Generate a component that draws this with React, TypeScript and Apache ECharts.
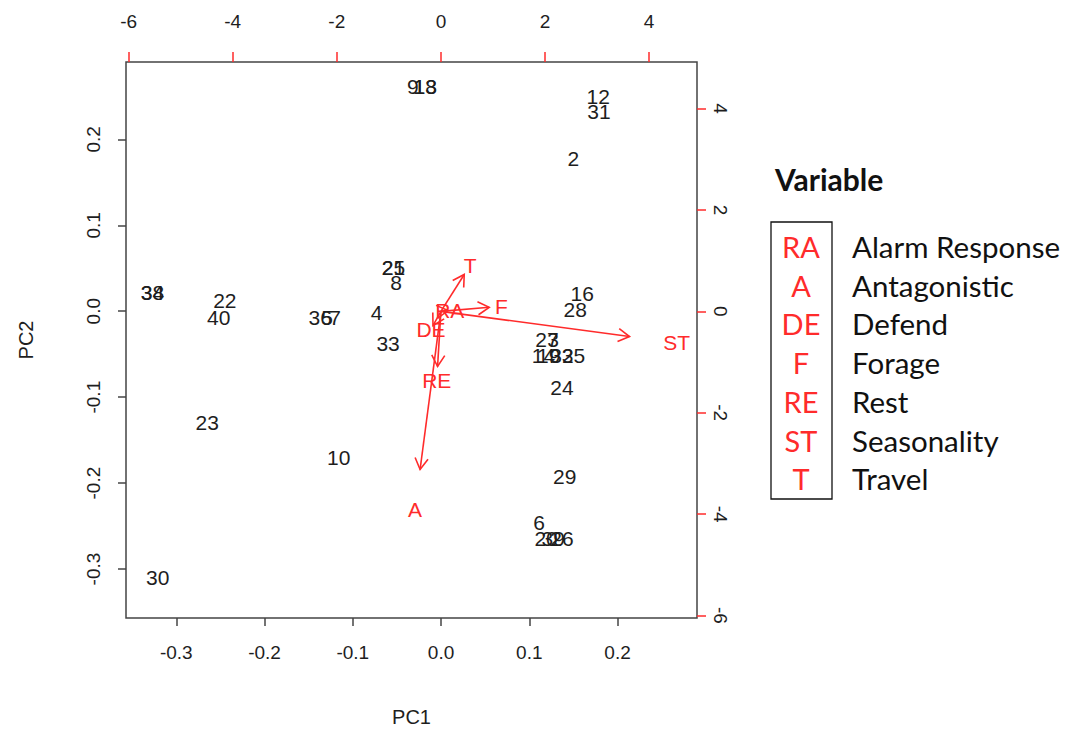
import React, { useEffect, useRef } from "react";
import * as echarts from "echarts";

// individual scores (PC1, PC2)
const obsLabels = ["9","18","13","34","38","22","40","23","30","10","36","5","7","4","33","21","25","8","2","12","31","16","28","24","29","6","20","39","26","27","3","14","19","32","35"];
const obsPC1 = [-0.032,-0.018,-0.018,-0.327,-0.327,-0.245,-0.252,-0.265,-0.321,-0.116,-0.137,-0.129,-0.120,-0.073,-0.060,-0.054,-0.054,-0.051,0.150,0.178,0.179,0.160,0.152,0.137,0.140,0.111,0.119,0.127,0.137,0.120,0.127,0.116,0.122,0.137,0.150];
const obsPC2 = [0.262,0.262,0.262,0.022,0.022,0.012,-0.007,-0.129,-0.310,-0.170,-0.007,-0.007,-0.007,-0.002,-0.037,0.051,0.051,0.033,0.178,0.250,0.232,0.021,0.002,-0.089,-0.192,-0.246,-0.265,-0.265,-0.265,-0.033,-0.033,-0.052,-0.052,-0.052,-0.052];

// variable loadings (secondary axes)
const varCodes = ["T","F","RA","DE","RE","A","ST"];
const varLoad1 = [0.56,1.16,0.17,-0.19,-0.08,-0.50,4.53];
const varLoad2 = [0.91,0.10,0.02,-0.35,-1.36,-3.90,-0.62];

// legend
const legendCodes = ["RA","A","DE","F","RE","ST","T"];
const legendNames = ["Alarm Response","Antagonistic","Defend","Forage","Rest","Seasonality","Travel"];

// ticks
const pcTicks = [-0.3,-0.2,-0.1,0,0.1,0.2];
const loadTicks = [-6,-4,-2,0,2,4];

const RED = "#ff2b2b";
const INK = "#1e1e1e";
const FONT = "'Liberation Sans', Arial, sans-serif";
const LFONT = "Lato, 'Open Sans', sans-serif";

export default function App() {
  const ref = useRef<HTMLDivElement>(null);
  useEffect(() => {
    if (!ref.current) return;
    const chart = echarts.init(ref.current, null, { renderer: "svg" });
    const primaryLim = [-0.357, 0.29];
    const secLim = [-6.05, 4.92];

    const legendGraphics: any[] = [
      { type: "text", left: 775, top: 164, style: { text: "Variable", font: `bold 30px ${LFONT}`, fill: "#111" } },
      { type: "rect", shape: { x: 771, y: 222, width: 61, height: 277 }, style: { fill: "none", stroke: "#111", lineWidth: 1.3 } },
    ];
    legendCodes.forEach((c, i) => {
      const y = 246.5 + i * 38.7;
      legendGraphics.push({ type: "text", x: 801, y, style: { text: c, font: `29px ${LFONT}`, fill: RED, align: "center", verticalAlign: "middle" } });
      legendGraphics.push({ type: "text", x: 852, y, style: { text: legendNames[i], font: `29.5px ${LFONT}`, fill: "#111", align: "left", verticalAlign: "middle" } });
    });

    const hideLine = { show: false, onZero: false };

    chart.setOption({
      animation: false,
      backgroundColor: "#fff",
      grid: { left: 126, right: 380, top: 62, bottom: 120, show: true, borderColor: "#444", borderWidth: 1.5, backgroundColor: "transparent" },
      xAxis: [
        {
          type: "value", position: "bottom", min: primaryLim[0], max: primaryLim[1],
          axisLine: hideLine, splitLine: { show: false },
          axisTick: { show: true, length: 8, customValues: pcTicks, lineStyle: { color: "#444", width: 1.5 } },
          axisLabel: { customValues: pcTicks, formatter: (v: number) => v.toFixed(1), margin: 25, fontSize: 19, color: INK, fontFamily: FONT },
          name: "PC1", nameLocation: "middle", nameGap: 89, nameTextStyle: { fontSize: 20, color: INK, fontFamily: FONT },
        },
        {
          type: "value", position: "top", min: secLim[0], max: secLim[1],
          axisLine: hideLine, splitLine: { show: false },
          axisTick: { show: true, length: 10, customValues: loadTicks, lineStyle: { color: RED, width: 1.5 } },
          axisLabel: { customValues: loadTicks, formatter: (v: number) => String(v), margin: 31, fontSize: 19, color: INK, fontFamily: FONT },
        },
      ],
      yAxis: [
        {
          type: "value", position: "left", min: primaryLim[0], max: primaryLim[1],
          axisLine: hideLine, splitLine: { show: false },
          axisTick: { show: true, length: 8, customValues: pcTicks, lineStyle: { color: "#444", width: 1.5 } },
          axisLabel: { customValues: pcTicks, formatter: (v: number) => v.toFixed(1), margin: 23, rotate: 90, fontSize: 19, color: INK, fontFamily: FONT },
          name: "PC2", nameLocation: "middle", nameGap: 90, nameRotate: 90, nameTextStyle: { fontSize: 20, color: INK, fontFamily: FONT },
        },
        {
          type: "value", position: "right", min: secLim[0], max: secLim[1],
          axisLine: hideLine, splitLine: { show: false },
          axisTick: { show: true, length: 9, customValues: loadTicks, lineStyle: { color: RED, width: 1.5 } },
          axisLabel: { customValues: loadTicks, formatter: (v: number) => String(v), margin: 14, rotate: -90, fontSize: 19, color: INK, fontFamily: FONT },
        },
      ],
      graphic: legendGraphics,
      series: [
        {
          type: "custom", xAxisIndex: 0, yAxisIndex: 0, clip: false,
          data: obsLabels.map((l, i) => [obsPC1[i], obsPC2[i], l]),
          renderItem: (params: any, api: any) => {
            const p = api.coord([api.value(0), api.value(1)]);
            return { type: "text", x: p[0], y: p[1], style: { text: obsLabels[params.dataIndex], fill: INK, font: `21px ${FONT}`, align: "center", verticalAlign: "middle" } };
          },
        },
        {
          type: "custom", xAxisIndex: 1, yAxisIndex: 1, clip: false,
          data: varCodes.map((c, i) => [varLoad1[i], varLoad2[i], c]),
          renderItem: (params: any, api: any) => {
            const u = api.value(0), v = api.value(1);
            const o = api.coord([0, 0]);
            const tip = api.coord([u * 0.8, v * 0.8]);
            const lab = api.coord([u, v]);
            const ang = Math.atan2(tip[1] - o[1], tip[0] - o[0]);
            const hl = 13, ha = Math.PI / 6;
            const h1 = [tip[0] - hl * Math.cos(ang - ha), tip[1] - hl * Math.sin(ang - ha)];
            const h2 = [tip[0] - hl * Math.cos(ang + ha), tip[1] - hl * Math.sin(ang + ha)];
            const ls = { stroke: RED, lineWidth: 1.6, fill: "none" };
            return {
              type: "group",
              children: [
                { type: "line", shape: { x1: o[0], y1: o[1], x2: tip[0], y2: tip[1] }, style: ls },
                { type: "polyline", shape: { points: [h1, tip, h2] }, style: ls },
                { type: "text", x: lab[0], y: lab[1], style: { text: varCodes[params.dataIndex], fill: RED, font: `21px ${FONT}`, align: "center", verticalAlign: "middle" } },
              ],
            };
          },
        },
      ],
    });
    return () => chart.dispose();
  }, []);
  return <div ref={ref} style={{ position: "fixed", left: 0, top: 0, width: 1077, height: 738, background: "#fff" }} />;
}
